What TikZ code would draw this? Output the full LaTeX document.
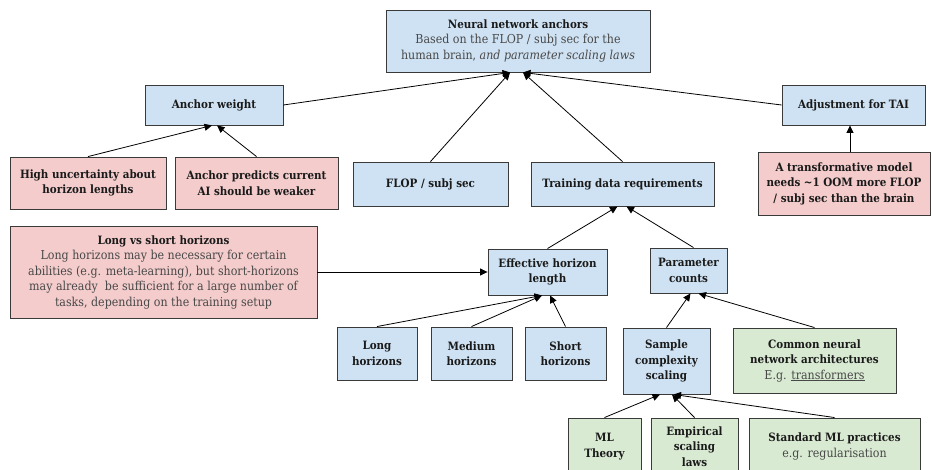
\documentclass[tikz,border=0pt]{standalone}
\usepackage{fontspec}
\setmainfont{DejaVu Serif Condensed}
\usetikzlibrary{arrows.meta,calc}
\definecolor{bluefill}{HTML}{CFE2F3}
\definecolor{redfill}{HTML}{F4CCCC}
\definecolor{greenfill}{HTML}{D9EAD3}
\definecolor{edgecol}{HTML}{3A3A3A}
\definecolor{txtcol}{HTML}{1A1A1A}
\definecolor{subcol}{HTML}{484848}
\newcommand\mybox[7]{%
  \node[#2, minimum width={(#5-#3)*1pt}, minimum height={(#6-#4)*1pt}] (#1) at ({(#3+#5)/2},{(#4+#6)/2}) {#7};}
\newcommand\subt[1]{{\fontsize{12.3}{15.5}\selectfont\mdseries\color{subcol}#1}}
\begin{document}
\begin{tikzpicture}[x=1pt,y=-1pt,
  box/.style={draw=edgecol, line width=0.9pt, inner sep=0pt, align=center,
    font=\fontsize{11.5}{15.5}\selectfont\bfseries, text=txtcol},
  bluebox/.style={box, fill=bluefill},
  redbox/.style={box, fill=redfill},
  greenbox/.style={box, fill=greenfill},
  arr/.style={-{Triangle[length=7.5pt,width=7pt]}, line width=0.8pt, draw=black}]
\useasboundingbox[fill=white] (0,0) rectangle (932,470);
\begin{scope}
\clip (0,0) rectangle (932,470);
\mybox{nn}{bluebox}{386}{10}{650}{72}{Neural network anchors\\ \subt{Based on the FLOP / subj sec for the}\\ \subt{human brain, \emph{and parameter scaling laws}}}
\mybox{aw}{bluebox}{145}{85}{283}{125}{Anchor weight}
\mybox{hu}{redbox}{10}{157}{166}{209}{High uncertainty about\\horizon lengths}
\mybox{ap}{redbox}{175}{157}{338}{209}{Anchor predicts current\\AI should be weaker}
\mybox{flop}{bluebox}{353}{162}{508}{206}{FLOP / subj sec}
\mybox{td}{bluebox}{531}{162}{714}{206}{Training data requirements}
\mybox{adj}{bluebox}{782}{85}{925}{125}{Adjustment for TAI}
\mybox{tm}{redbox}{758}{152}{930}{215}{A transformative model\\needs \textasciitilde 1 OOM more FLOP\\/ subj sec than the brain}
\mybox{lvs}{redbox}{10}{226}{317}{318}{Long vs short horizons\\ \subt{Long horizons may be necessary for certain}\\ \subt{abilities (e.g. meta-learning), but short-horizons}\\ \subt{may already\ \ be sufficient for a large number of}\\ \subt{tasks, depending on the training setup}}
\mybox{ehl}{bluebox}{488}{249}{607}{295}{Effective horizon\\length}
\mybox{pc}{bluebox}{650}{248}{727}{293}{Parameter\\counts}
\mybox{lh}{bluebox}{337}{327}{417}{380}{Long\\horizons}
\mybox{mh}{bluebox}{431}{327}{512}{380}{Medium\\horizons}
\mybox{sh}{bluebox}{525}{327}{606}{380}{Short\\horizons}
\mybox{sc}{bluebox}{623}{328}{710}{394}{Sample\\complexity\\scaling}
\mybox{cn}{greenbox}{733}{328}{896}{393}{Common neural\\network architectures\\ \subt{E.g. \underline{transformers}}}
\mybox{mt}{greenbox}{568}{418}{641}{475}{ML\\Theory}
\mybox{es}{greenbox}{651}{418}{738}{475}{Empirical\\scaling\\laws}
\mybox{sm}{greenbox}{749}{418}{920}{475}{Standard ML practices\\ \subt{e.g. regularisation}}
\end{scope}
% connectors
\draw[arr] (aw.east) -- ($(nn.south)+(-8,0)$);
\draw[arr] (flop.north) -- ($(nn.south)+(-8,0)$);
\draw[arr] (td.north) -- ($(nn.south)+(5,0)$);
\draw[arr] (adj.west) -- ($(nn.south)+(5,0)$);
\draw[arr] (hu.north) -- ($(aw.south)+(-2,0)$);
\draw[arr] (ap.north) -- ($(aw.south)+(3,0)$);
\draw[arr] ($(tm.north)+(6,0)$) -- ($(adj.south)+(-3.5,0)$);
\draw[arr] (ehl.north) -- ($(td.south)+(-5,0)$);
\draw[arr] ($(pc.north)+(5,0)$) -- ($(td.south)+(4,0)$);
\draw[arr] (lvs.east) -- (ehl.west);
\draw[arr] (lh.north) -- ($(ehl.south)+(-5.5,0)$);
\draw[arr] (mh.north) -- ($(ehl.south)+(-5.5,0)$);
\draw[arr] (sh.north) -- ($(ehl.south)+(2.5,0)$);
\draw[arr] (sc.north) -- ($(pc.south)+(2,0)$);
\draw[arr] (cn.north) -- ($(pc.south)+(10,0)$);
\draw[arr] (mt.north) -- ($(sc.south)+(-6.5,0)$);
\draw[arr] (es.north) -- ($(sc.south)+(5.5,0)$);
\draw[arr] (sm.north) -- ($(sc.south)+(7,0)$);
\end{tikzpicture}
\end{document}
